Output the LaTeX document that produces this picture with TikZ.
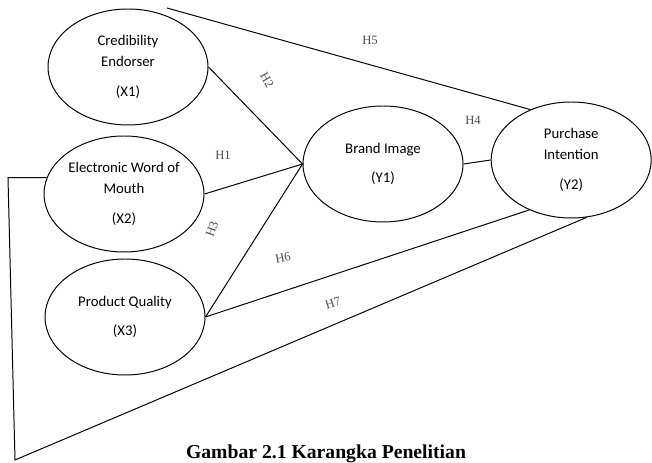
\documentclass[tikz,border=0pt]{standalone}
\usepackage{fontspec}
\setmainfont{Carlito}
\newfontfamily\capfont{Liberation Serif}
\usetikzlibrary{shapes.geometric}

\tikzset{
  construct/.style={ellipse, draw, line width=0.7pt, minimum width=4cm,
    minimum height=2.9cm, inner sep=0pt, align=center, font=\fontsize{10.5}{15}\selectfont},
  hyp/.style={font=\capfont\fontsize{9}{10}\selectfont, text=black!70, inner sep=1pt},
  link/.style={line width=0.7pt}
}

\begin{document}
\begin{tikzpicture}
  \useasboundingbox (0,0) rectangle (16.3,11.575);

  \node[construct] (X1) at (3.2,9.9) {Credibility\\Endorser\\[6pt](X1)};
  \node[construct] (X2) at (3.1,6.725) {Electronic Word of\\Mouth\\[6pt](X2)};
  \node[construct] (X3) at (3.125,3.65) {Product Quality\\[6pt](X3)};
  \node[construct] (Y1) at (9.575,7.475) {Brand Image\\[6pt](Y1)};
  \node[construct] (Y2) at (14.28,7.575) {Purchase\\Intention\\[6pt](Y2)};

  \coordinate (H5start) at (4.175,11.375);
  \coordinate (corner) at (0.2,7.1);
  \coordinate (bottom) at (0.375,0.075);

  \path[link] (X1.east) edge (Y1.west);
  \path[link] (X2.east) edge (Y1.west);
  \path[link] (X3.east) edge (Y1.west);
  \path[link] (Y1.east) edge (Y2.west);
  \path[link] (H5start) edge (Y2.129);
  \path[link] (X3.east) edge (Y2.230);
  \draw[link] (X2.168) -- (X2.168 -| corner) -- (bottom) -- (Y2.-75);

  \node[hyp] (H1) at (5.575,7.7) {H1};
  \node[hyp, rotate=-60] (H2) at (6.675,9.575) {H2};
  \node[hyp, rotate=70] (H3) at (5.3,5.85) {H3};
  \node[hyp] (H4) at (11.825,8.575) {H4};
  \node[hyp] (H5) at (9.25,10.575) {H5};
  \node[hyp, rotate=12] (H6) at (7.075,5.125) {H6};
  \node[hyp, rotate=18] (H7) at (8.325,4.0) {H7};

  \node[anchor=base, font=\capfont\bfseries\fontsize{14}{15}\selectfont] (cap) at (8.15,0.1) {Gambar 2.1 Karangka Penelitian};
\end{tikzpicture}
\end{document}
